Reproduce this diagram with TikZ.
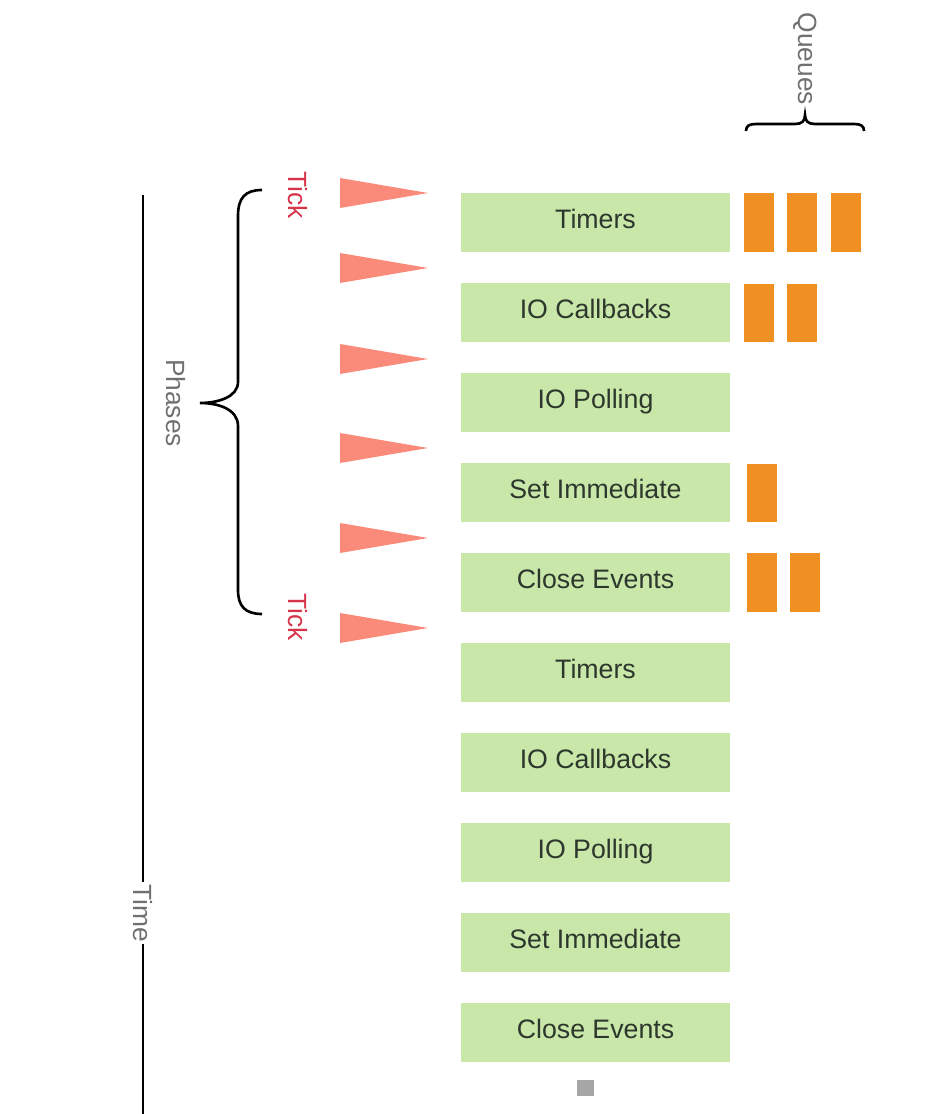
\documentclass[tikz,border=0pt]{standalone}
\usepackage{fontspec}
\setmainfont{Liberation Sans}
\definecolor{phasegreen}{RGB}{200,231,168}
\definecolor{queueorange}{RGB}{240,144,34}
\definecolor{ticksalmon}{RGB}{250,138,122}
\definecolor{tickred}{RGB}{214,52,74}
\definecolor{labelgray}{RGB}{112,112,112}
\definecolor{textdark}{RGB}{45,55,45}
\begin{document}
\begin{tikzpicture}[x=0.02cm, y=-0.02cm,
    phase/.style={fill=phasegreen, minimum width=5.38cm, minimum height=1.18cm, text depth=4pt,
      inner sep=0pt, text=textdark, font=\fontsize{15.2}{18}\selectfont},
    job/.style={fill=queueorange, minimum width=0.6cm, minimum height=1.18cm, inner sep=0pt},
    side/.style={rotate=-90, text=labelgray, inner sep=2pt, font=\fontsize{15}{18}\selectfont}]
    \useasboundingbox (0,0) rectangle (928,1114);

    % Phases of two loop iterations
    \foreach \name [count=\i from 0] in {Timers, IO Callbacks, IO Polling, Set Immediate, Close Events,
        Timers, IO Callbacks, IO Polling, Set Immediate, Close Events}
        \node[phase] (p\i) at (595.5,{222.5+90*\i}) {\name};

    % Queued callbacks
    \node[job] (qa1) at (759,222.5) {};
    \node[job] (qa2) at (802,222.5) {};
    \node[job] (qa3) at (846,222.5) {};
    \node[job] (qb1) at (759,313) {};
    \node[job] (qb2) at (802,313) {};
    \node[job] (qd1) at (762,493) {};
    \node[job] (qe1) at (762,582.5) {};
    \node[job] (qe2) at (805,582.5) {};

    % Tick markers
    \foreach \y in {193,268,359,448,538,628}
        \fill[ticksalmon] (340,{\y-15}) -- (428,\y) -- (340,{\y+15}) -- cycle;
    \node[side, text=tickred] (tick1) at (298,195) {Tick};
    \node[side, text=tickred] (tick2) at (298,617) {Tick};

    % Phases brace
    \draw[line width=1.5pt] (262,190) .. controls (245,190) and (238,198) .. (238,216) -- (238,382)
        .. controls (238,397) and (218,403) .. (200,403) .. controls (218,403) and (238,409) .. (238,426)
        -- (238,590) .. controls (238,606) and (245,614) .. (262,614);
    \node[side] (phases) at (176,403) {Phases};

    % Queues brace
    \draw[line width=1.5pt] (746,131) .. controls (746,126) and (749,124) .. (756,124) -- (795,124)
        .. controls (802,124) and (805,121) .. (805,115) .. controls (805,121) and (808,124) .. (815,124)
        -- (854,124) .. controls (861,124) and (864,126) .. (864,131);
    \node[side] (queues) at (805,59) {Queues};

    % Time axis
    \coordinate (ttop) at (143,195);
    \coordinate (tbot) at (143,1114);
    \node[side, inner sep=1pt] (time) at (143,913) {Time};
    \draw[line width=1.5pt] (ttop) -- (time) -- (tbot);

    \fill[gray!70] (577,1080) rectangle (594,1096);
\end{tikzpicture}
\end{document}
